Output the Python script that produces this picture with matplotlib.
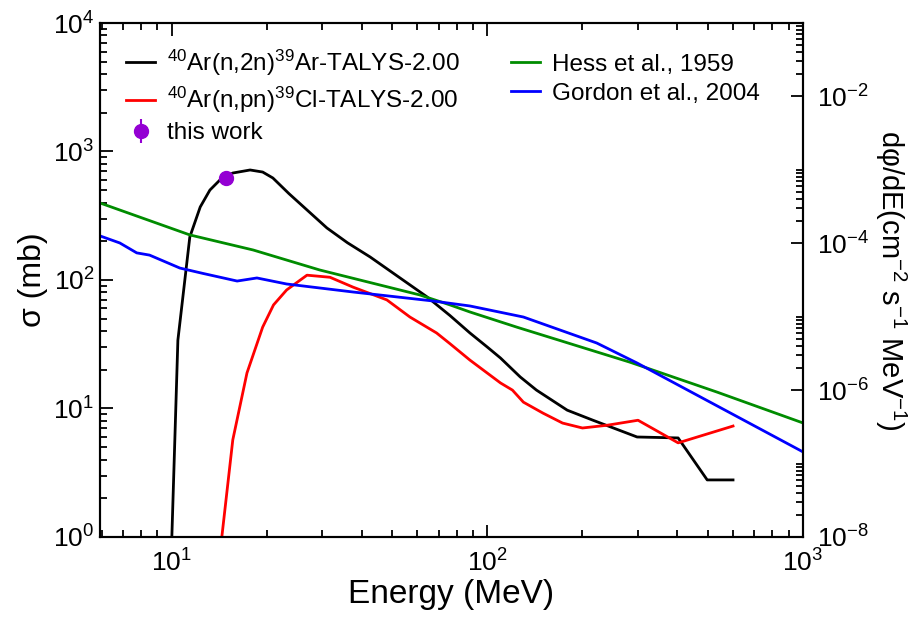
import numpy as np
import matplotlib.pyplot as plt
from matplotlib.ticker import FixedLocator, FuncFormatter, LogLocator, NullFormatter

plt.rcParams['font.family'] = ['Liberation Sans', 'DejaVu Sans']
plt.rcParams['mathtext.fontset'] = 'custom'
plt.rcParams['mathtext.rm'] = 'Liberation Sans'
plt.rcParams['mathtext.it'] = 'Liberation Sans:italic'

# 40Ar(n,2n)39Ar, TALYS-2.00 (mb)
e_2n = [9.9, 10.0, 10.22, 10.45, 11.4, 12.3, 13.2, 14.2, 15.6, 17.7, 19.4, 20.9, 23.5, 26.8, 31, 36, 42.5,
        64.3, 76, 88, 100, 110, 127, 143, 179, 216, 298, 402, 497, 600]
s_2n = [0.4, 1.0, 5.7, 34, 216, 370, 501, 600, 680, 718, 692, 622, 470, 351, 254, 195, 151,
        74, 53, 38.7, 30, 24.7, 17.6, 13.9, 9.7, 8.1, 6.0, 5.9, 2.78, 2.78]

# 40Ar(n,pn)39Cl, TALYS-2.00 (mb)
e_pn = [14.3, 14.4, 15.6, 17.3, 19.4, 21.0, 23.1, 26.8, 31.7, 37.5, 48, 56.8, 69, 76, 88,
        110, 120, 130, 150, 173, 200, 239, 300, 402, 600]
s_pn = [0.5, 1.0, 5.7, 18.9, 43, 64, 83.6, 109, 105, 88, 70, 51.5, 38.7, 32, 23.8,
        15.8, 13.9, 11.2, 9.2, 7.7, 7.05, 7.4, 8.1, 5.4, 7.3]

# measured point
e_meas = [14.8]
s_meas = [620]
s_err = [60]

# neutron flux, Hess et al. 1959
e_hess = [5.92, 11.4, 18.1, 29.4, 61, 76, 88, 124, 283, 534, 1000]
f_hess = [3.54e-4, 1.30e-4, 8.1e-5, 4.33e-5, 1.98e-5, 1.45e-5, 1.16e-5, 7.2e-6, 2.4e-6, 9.4e-7, 3.57e-7]

# neutron flux, Gordon et al. 2004
e_gordon = [5.92, 6.84, 7.74, 8.5, 10.6, 12.5, 16.1, 18.6, 23.1, 37.5, 67, 88, 130, 222, 298, 1000]
f_gordon = [1.26e-4, 1.01e-4, 7.4e-5, 6.9e-5, 4.6e-5, 3.9e-5, 3.06e-5, 3.37e-5, 2.79e-5,
            2.17e-5, 1.64e-5, 1.40e-5, 9.9e-6, 4.38e-6, 2.34e-6, 1.44e-7]

fig = plt.figure(figsize=(9.14, 6.2), dpi=100)
ax = fig.add_axes([0.1094, 0.1339, 0.7692, 0.829])
ax2 = ax.twinx()

l1, = ax.plot(e_2n, s_2n, color='black', lw=2.0)
l2, = ax.plot(e_pn, s_pn, color='#ff0000', lw=2.0)
pt = ax.errorbar(e_meas, s_meas, yerr=s_err, fmt='o', color='#9400d3', ms=10, elinewidth=1.5, capsize=0)
l3, = ax2.plot(e_hess, f_hess, color='#008c00', lw=2.0)
l4, = ax2.plot(e_gordon, f_gordon, color='#0000ff', lw=2.0)

ax.set_xscale('log')
ax.set_yscale('log')
ax2.set_yscale('log')
ax.set_xlim(5.92, 1000)
ax.set_ylim(1, 1e4)
ax2.set_ylim(1e-8, 1e-1)

fmt = FuncFormatter(lambda v, p: r'$\mathregular{10^{%d}}$' % round(np.log10(v)))
ax.xaxis.set_major_locator(FixedLocator([10, 100, 1000]))
ax.xaxis.set_minor_locator(LogLocator(base=10, subs=np.arange(2, 10)))
ax.xaxis.set_major_formatter(fmt)
ax.xaxis.set_minor_formatter(NullFormatter())
ax.yaxis.set_major_locator(FixedLocator([1, 10, 100, 1000, 1e4]))
ax.yaxis.set_minor_locator(LogLocator(base=10, subs=np.arange(2, 10)))
ax.yaxis.set_major_formatter(fmt)
ax.yaxis.set_minor_formatter(NullFormatter())

ax2.yaxis.set_major_locator(FixedLocator([1e-8, 1e-6, 1e-4, 1e-2]))
minors = [n * 10.0 ** k for k in [-8, -6, -4, -2] for n in range(2, 11)]
ax2.yaxis.set_minor_locator(FixedLocator(minors))
ax2.yaxis.set_major_formatter(fmt)
ax2.yaxis.set_minor_formatter(NullFormatter())

ax.tick_params(axis='x', which='both', direction='in', top=True, labelsize=19, pad=9)
ax.tick_params(axis='y', which='both', direction='in', right=False, labelsize=19, pad=4)
ax2.tick_params(axis='y', which='both', direction='in', labelsize=19, pad=10)
for a in (ax, ax2):
    a.tick_params(which='major', length=9, width=1.3)
    a.tick_params(which='minor', length=5, width=1.3)
    for s in a.spines.values():
        s.set_linewidth(1.5)

ax.set_xlabel('Energy (MeV)', fontsize=24, labelpad=2)
ax.set_ylabel('σ (mb)', fontsize=23, labelpad=4)
ax2.set_ylabel('dφ/dE(cm$^{-2}$ s$^{-1}$ MeV$^{-1}$)', fontsize=21, rotation=270, labelpad=28)

handles = [l1, l2, pt, l3, l4]
labels = [r'$^{40}$Ar(n,2n)$^{39}$Ar-TALYS-2.00',
          r'$^{40}$Ar(n,pn)$^{39}$Cl-TALYS-2.00',
          'this work',
          'Hess et al., 1959',
          'Gordon et al., 2004']
ax2.legend(handles, labels, loc='upper left', bbox_to_anchor=(0.006, 0.995), ncol=2,
           frameon=False, fontsize=17.5, handlelength=1.2, handletextpad=0.5,
           columnspacing=2.1, labelspacing=0.3)

fig.savefig('out.png', dpi=100)
